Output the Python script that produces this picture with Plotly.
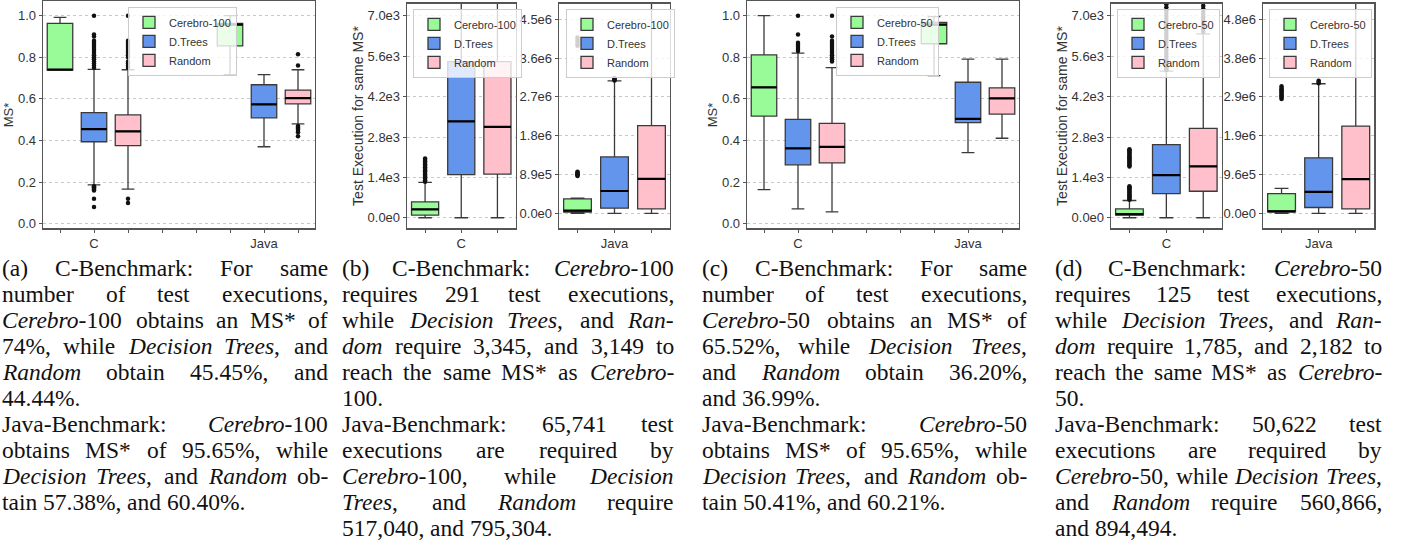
import plotly.graph_objects as go

W, H = 1403, 552

SERIES = ["Cerebro-100", "D.Trees", "Random"]
SERIES50 = ["Cerebro-50", "D.Trees", "Random"]
CATS = ["C", "Java"]
COLORS = ["#98FB98", "#6495ED", "#FFC0CB"]

# ---------- (a) MS*, Cerebro-100 ; rows = series, cols = [C, Java]
A_Q1 = [[0.738, 0.855], [0.394, 0.509], [0.375, 0.576]]
A_MED = [[0.740, 0.9565], [0.4545, 0.5738], [0.4444, 0.604]]
A_Q3 = [[0.963, 0.963], [0.534, 0.668], [0.523, 0.642]]
A_LO = [[0.738, 0.717], [0.187, 0.370], [0.166, 0.480]]
A_HI = [[0.992, 1.0], [0.742, 0.717], [0.740, 0.740]]
A_OUT = [
    [[], []],
    [[0.75, 0.76, 0.77, 0.78, 0.79, 0.80, 0.81, 0.82, 0.83, 0.84, 0.85, 0.86, 0.87, 0.88, 0.90, 0.91, 1.0,
      0.18, 0.175, 0.17, 0.165, 0.16, 0.12, 0.08], []],
    [[0.75, 0.76, 0.77, 0.78, 0.80, 0.81, 0.82, 0.83, 0.84, 0.85, 0.86, 0.87, 0.88, 1.0, 0.12, 0.10],
     [0.76, 0.815, 0.47, 0.465, 0.46, 0.455, 0.45, 0.44, 0.42]],
]

# ---------- (c) MS*, Cerebro-50
C_Q1 = [[0.517, 0.865], [0.283, 0.486], [0.293, 0.527]]
C_MED = [[0.6552, 0.9565], [0.362, 0.5041], [0.3699, 0.6021]]
C_Q3 = [[0.812, 0.967], [0.502, 0.680], [0.482, 0.653]]
C_LO = [[0.164, 0.712], [0.072, 0.342], [0.057, 0.411]]
C_HI = [[1.0, 0.995], [0.820, 0.791], [0.750, 0.791]]
C_OUT = [
    [[], []],
    [[0.83, 0.84, 0.85, 0.86, 0.87, 0.91, 1.0], []],
    [[0.78, 0.79, 0.80, 0.81, 0.82, 0.83, 0.84, 0.85, 0.86, 0.87, 0.88, 0.90, 1.0], []],
]

# ---------- (b) test executions, Cerebro-100 ; rows = series
B_C_Q1 = [92, 1492, 1515]
B_C_MED = [291, 3345, 3149]
B_C_Q3 = [551, 5416, 5416]
B_C_LO = [0, 0, 0]
B_C_HI = [1228, 8500, 8500]
B_C_OUT = [[1250, 1300, 1350, 1400, 1450, 1500, 1550, 1600, 1650, 1700, 1750, 1800, 1850, 1900, 1950, 2000, 2050], [], []]

B_J_Q1 = [30000, 122000, 107000]
B_J_MED = [65741, 517040, 795304]
B_J_Q3 = [335000, 1300000, 2020000]
B_J_LO = [0, 0, 0]
B_J_HI = [350000, 3050000, 5200000]
B_J_OUT = [[860000, 880000, 900000, 920000, 940000, 960000, 3860000, 3900000, 3950000, 4000000, 4050000],
           [3060000, 3080000, 3100000, 3120000], []]

# ---------- (d) test executions, Cerebro-50
D_C_Q1 = [92, 838, 918]
D_C_MED = [125, 1480, 1779]
D_C_Q3 = [310, 2536, 3098]
D_C_LO = [0, 0, 0]
D_C_HI = [597, 5083, 6380]
D_C_OUT = [[620, 660, 700, 740, 780, 820, 860, 900, 940, 980, 1020, 1060, 1090,
            1780, 1820, 1860, 1900, 1940, 1980, 2020, 2060, 2100, 2140, 2180, 2220, 2260, 2300, 2340, 2375],
           [5120, 5160, 5200, 5250, 5300, 5400, 5500, 5600, 5700, 5800, 5900, 6000, 6100, 6200, 6300,
            6400, 6500, 6600, 6700, 6800, 6900, 7000, 7100, 7200, 7300, 7400],
           [6450, 6550, 6650, 6750, 6850, 6950, 7050, 7150, 7250, 7350]]

D_J_Q1 = [41000, 147000, 114000]
D_J_MED = [50622, 531000, 850000]
D_J_Q3 = [491000, 1374000, 2159000]
D_J_LO = [0, 0, 0]
D_J_HI = [621000, 3205000, 5500000]
D_J_OUT = [[2830000, 2860000, 2890000, 2920000, 2950000, 2980000, 3010000, 3040000, 3070000, 3100000, 3140000],
           [3220000, 3250000, 3280000], []]

# tick labels
MS_TICKS = [0.0, 0.2, 0.4, 0.6, 0.8, 1.0]
MS_TEXT = ["0.0", "0.2", "0.4", "0.6", "0.8", "1.0"]
C_TICKS_TEXT = ["0.0e0", "1.4e3", "2.8e3", "4.2e3", "5.6e3", "7.0e3"]
C_TICK_STEP = 1400
B_J_TICKS_TEXT = ["0.0e0", "8.9e5", "1.8e6", "2.7e6", "3.6e6", "4.5e6"]
B_J_TICK_STEP = 894494
D_J_TICKS_TEXT = ["0.0e0", "9.6e5", "1.9e6", "2.9e6", "3.8e6", "4.8e6"]
D_J_TICK_STEP = 960000

CAPTIONS = [
    ["(a) C-Benchmark: For same",
     "number of test executions,",
     "<i>Cerebro</i>-100 obtains an MS* of",
     "74%, while <i>Decision Trees</i>, and",
     "<i>Random</i> obtain 45.45%, and",
     "44.44%.",
     "Java-Benchmark: <i>Cerebro</i>-100",
     "obtains MS* of 95.65%, while",
     "<i>Decision Trees</i>, and <i>Random</i> ob-",
     "tain 57.38%, and 60.40%."],
    ["(b) C-Benchmark: <i>Cerebro</i>-100",
     "requires 291 test executions,",
     "while <i>Decision Trees</i>, and <i>Ran-</i>",
     "<i>dom</i> require 3,345, and 3,149 to",
     "reach the same MS* as <i>Cerebro</i>-",
     "100.",
     "Java-Benchmark: 65,741 test",
     "executions are required by",
     "<i>Cerebro</i>-100, while <i>Decision</i>",
     "<i>Trees</i>, and <i>Random</i> require",
     "517,040, and 795,304."],
    ["(c) C-Benchmark: For same",
     "number of test executions,",
     "<i>Cerebro</i>-50 obtains an MS* of",
     "65.52%, while <i>Decision Trees</i>,",
     "and <i>Random</i> obtain 36.20%,",
     "and 36.99%.",
     "Java-Benchmark: <i>Cerebro</i>-50",
     "obtains MS* of 95.65%, while",
     "<i>Decision Trees</i>, and <i>Random</i> ob-",
     "tain 50.41%, and 60.21%."],
    ["(d) C-Benchmark: <i>Cerebro</i>-50",
     "requires 125 test executions,",
     "while <i>Decision Trees</i>, and <i>Ran-</i>",
     "<i>dom</i> require 1,785, and 2,182 to",
     "reach the same MS* as <i>Cerebro</i>-",
     "50.",
     "Java-Benchmark: 50,622 test",
     "executions are required by",
     "<i>Cerebro</i>-50, while <i>Decision Trees</i>,",
     "and <i>Random</i> require 560,866,",
     "and 894,494."],
]

# ---------------------------------------------------------------- styling / layout
SANS = "Liberation Sans, Arial, sans-serif"
SERIF = "Liberation Serif, Times New Roman, serif"
EDGE = "#3a3a3a"
FRAME = "#555555"
BOX_W = 0.75


def px_x(v):
    return v / W


def px_y(v):
    return 1 - v / H


fig = go.Figure()

# subplot geometry in pixels: (left, right, top, bottom)
PANELS = {
    1: (43, 315, 0.5, 229),
    2: (407, 515.5, 2.7, 229),
    3: (559, 670, 2.7, 229),
    4: (747, 1019, 0.5, 229),
    5: (1111, 1221.7, 2.7, 229),
    6: (1263, 1374.3, 2.7, 229),
}


def add_boxes(ax, names, q1, med, q3, lo, hi, out, positions, legend):
    xa = "x" if ax == 1 else f"x{ax}"
    ya = "y" if ax == 1 else f"y{ax}"
    for si, name in enumerate(names):
        fig.add_trace(go.Box(
            x=positions[si], q1=q1[si], median=med[si], q3=q3[si],
            lowerfence=lo[si], upperfence=hi[si],
            name=name, fillcolor=COLORS[si],
            line=dict(color=EDGE, width=1.3),
            width=BOX_W, whiskerwidth=0.5, boxpoints=False,
            xaxis=xa, yaxis=ya, legend=legend, showlegend=True,
            hoverinfo="skip",
        ))
    # thicker black median bars, built from the median values and box positions
    mx, my = [], []
    for si in range(len(names)):
        for p, m in zip(positions[si], med[si]):
            mx += [p - BOX_W / 2, p + BOX_W / 2, None]
            my += [m, m, None]
    fig.add_trace(go.Scatter(x=mx, y=my, mode="lines", line=dict(color="black", width=2.2),
                             xaxis=xa, yaxis=ya, showlegend=False, hoverinfo="skip"))
    for si in range(len(names)):
        for bi, vals in enumerate(out[si]):
            if not vals:
                continue
            fig.add_trace(go.Scatter(
                x=[positions[si][bi]] * len(vals), y=vals, mode="markers",
                marker=dict(color="#111111", size=4.5, line=dict(width=0)),
                xaxis=xa, yaxis=ya, showlegend=False, hoverinfo="skip",
            ))


def as_single(lst):
    return [[v] for v in lst]


pos_ac = [[ci * 5 + si for ci in range(len(CATS))] for si in range(3)]
add_boxes(1, SERIES, A_Q1, A_MED, A_Q3, A_LO, A_HI, A_OUT, pos_ac, "legend")
add_boxes(4, SERIES50, C_Q1, C_MED, C_Q3, C_LO, C_HI, C_OUT, pos_ac, "legend4")

pos_bd = [[si] for si in range(3)]
add_boxes(2, SERIES, as_single(B_C_Q1), as_single(B_C_MED), as_single(B_C_Q3),
          as_single(B_C_LO), as_single(B_C_HI), [[o] for o in B_C_OUT], pos_bd, "legend2")
add_boxes(3, SERIES, as_single(B_J_Q1), as_single(B_J_MED), as_single(B_J_Q3),
          as_single(B_J_LO), as_single(B_J_HI), [[o] for o in B_J_OUT], pos_bd, "legend3")
add_boxes(5, SERIES50, as_single(D_C_Q1), as_single(D_C_MED), as_single(D_C_Q3),
          as_single(D_C_LO), as_single(D_C_HI), [[o] for o in D_C_OUT], pos_bd, "legend5")
add_boxes(6, SERIES50, as_single(D_J_Q1), as_single(D_J_MED), as_single(D_J_Q3),
          as_single(D_J_LO), as_single(D_J_HI), [[o] for o in D_J_OUT], pos_bd, "legend6")

axis_common = dict(
    showline=True, mirror=True, linecolor=FRAME, linewidth=1.3,
    ticks="outside", ticklen=3, tickcolor=FRAME, tickwidth=1,
    tickfont=dict(family=SANS, size=13, color="#333333"),
    zeroline=False, fixedrange=True,
)

layout = {}
for ax, (l, r, t, b) in PANELS.items():
    xk = "xaxis" if ax == 1 else f"xaxis{ax}"
    yk = "yaxis" if ax == 1 else f"yaxis{ax}"
    xa = "x" if ax == 1 else f"x{ax}"
    if ax in (1, 4):
        xt = dict(tickvals=[0, 1, 2, 3, 4, 5, 6, 7],
                  ticktext=["", CATS[0], "", "", "", "", CATS[1], ""], range=[-0.5, 7.5])
    else:
        cat = CATS[0] if ax in (2, 5) else CATS[1]
        xt = dict(tickvals=[0, 1, 2], ticktext=["", cat, ""], range=[-0.5, 2.5])
    layout[xk] = dict(domain=[px_x(l), px_x(r)], anchor=("y" if ax == 1 else f"y{ax}"),
                      showgrid=False, **xt, **axis_common)
    ygrid = dict(showgrid=True, gridcolor="#c8c8c8", griddash="dot", gridwidth=1)
    if ax in (1, 4):
        yt = dict(tickvals=MS_TICKS, ticktext=MS_TEXT, range=[-0.022, 1.068],
                  title=dict(text="MS*", font=dict(family=SANS, size=13, color="#333333"), standoff=1))
    elif ax in (2, 5):
        yt = dict(tickvals=[i * C_TICK_STEP for i in range(len(C_TICKS_TEXT))], ticktext=C_TICKS_TEXT,
                  range=[-368, 7424],
                  title=dict(text="Test Execution for same MS*",
                             font=dict(family=SANS, size=14, color="#333333"), standoff=0))
    elif ax == 3:
        yt = dict(tickvals=[i * B_J_TICK_STEP for i in range(len(B_J_TICKS_TEXT))], ticktext=B_J_TICKS_TEXT,
                  range=[-343000, 4829000])
    else:
        yt = dict(tickvals=[i * D_J_TICK_STEP for i in range(len(D_J_TICKS_TEXT))], ticktext=D_J_TICKS_TEXT,
                  range=[-368000, 5183000])
    layout[yk] = dict(domain=[px_y(b), px_y(t)], anchor=xa, **ygrid, **yt, **axis_common)

LEG_POS = {"legend": (128, 6), "legend2": (413, 8), "legend3": (566, 8),
           "legend4": (836, 6), "legend5": (1117, 8), "legend6": (1269, 8)}
for lk, (lx, ly) in LEG_POS.items():
    layout[lk] = dict(x=px_x(lx), y=px_y(ly), xanchor="left", yanchor="top",
                      bgcolor="rgba(255,255,255,0.8)", bordercolor="#cccccc", borderwidth=1,
                      font=dict(family=SANS, size=11, color="#333333"),
                      tracegroupgap=0, itemwidth=30)

# ---------------------------------------------------------------- justified captions
ROMAN = {" ": 250, "!": 333, "%": 833, "(": 333, ")": 333, "*": 500, ",": 250, "-": 333, ".": 250, ":": 278,
         "A": 722, "B": 667, "C": 667, "D": 722, "E": 611, "F": 556, "G": 722, "H": 722, "I": 333, "J": 389,
         "K": 722, "L": 611, "M": 889, "N": 722, "O": 722, "P": 556, "Q": 722, "R": 667, "S": 556, "T": 611,
         "U": 722, "V": 722, "W": 944, "X": 722, "Y": 722, "Z": 611,
         "a": 444, "b": 500, "c": 444, "d": 500, "e": 444, "f": 333, "g": 500, "h": 500, "i": 278, "j": 278,
         "k": 500, "l": 278, "m": 778, "n": 500, "o": 500, "p": 500, "q": 500, "r": 333, "s": 389, "t": 278,
         "u": 500, "v": 500, "w": 722, "x": 500, "y": 500, "z": 444}
ITALIC = {" ": 250, ",": 250, "-": 333, ".": 250,
          "A": 611, "B": 611, "C": 667, "D": 722, "E": 611, "F": 611, "G": 722, "H": 722, "I": 333, "J": 444,
          "K": 667, "L": 556, "M": 833, "N": 667, "O": 722, "P": 611, "Q": 722, "R": 611, "S": 500, "T": 556,
          "a": 500, "b": 500, "c": 444, "d": 500, "e": 444, "f": 278, "g": 500, "h": 500, "i": 278, "j": 278,
          "k": 444, "l": 278, "m": 722, "n": 500, "o": 500, "p": 500, "q": 500, "r": 389, "s": 389, "t": 278,
          "u": 500, "v": 444, "w": 667, "x": 444, "y": 444, "z": 389}


def parse(line):
    chars, ital, i = [], False, 0
    while i < len(line):
        if line.startswith("<i>", i):
            ital, i = True, i + 3
        elif line.startswith("</i>", i):
            ital, i = False, i + 4
        else:
            chars.append((line[i], ital))
            i += 1
    words, cur = [], []
    for c, it in chars:
        if c == " ":
            if cur:
                words.append(cur)
            cur = []
        else:
            cur.append((c, it))
    if cur:
        words.append(cur)
    return words


def word_markup(word):
    out, cur_it = "", False
    for c, it in word:
        if it and not cur_it:
            out += "<i>"
        if not it and cur_it:
            out += "</i>"
        out += c
        cur_it = it
    if cur_it:
        out += "</i>"
    return out


def word_width(word, size):
    return sum((ITALIC if it else ROMAN).get(c, 500) for c, it in word) * size / 1000.0


CAP_COLS = [(2, 328), (342, 674), (702, 1027), (1055, 1382)]
BASE0, LINE_H, CAP_SIZE = 276, 26.2, 23.5
annotations = []
for ci, lines in enumerate(CAPTIONS):
    left, right = CAP_COLS[ci]
    for li, line in enumerate(lines):
        words = parse(line)
        widths = [word_width(w, CAP_SIZE) for w in words]
        last_of_par = (li == len(lines) - 1) or lines[li + 1].startswith("Java-Benchmark")
        space = 0.25 * CAP_SIZE
        if not last_of_par and len(words) > 1:
            space = max((right - left - sum(widths)) / (len(words) - 1), 3)
        yc = px_y(BASE0 + li * LINE_H - 0.3 * CAP_SIZE)
        x = left
        for wi, w in enumerate(words):
            justify_end = (not last_of_par) and wi == len(words) - 1 and len(words) > 1
            annotations.append(dict(
                text=word_markup(w),
                x=px_x(right if justify_end else x), y=yc,
                xref="paper", yref="paper",
                xanchor="right" if justify_end else "left", yanchor="middle",
                showarrow=False, borderpad=0, borderwidth=0,
                font=dict(family=SERIF, size=CAP_SIZE, color="#111111"),
            ))
            x += widths[wi] + space

fig.update_layout(
    width=W, height=H, margin=dict(l=0, r=0, t=0, b=0),
    paper_bgcolor="white", plot_bgcolor="white",
    annotations=annotations, boxmode="overlay",
    **layout,
)

fig.write_html("out.html", config={"displayModeBar": False, "staticPlot": True},
               post_script="document.body.style.margin='0';document.body.style.padding='0';")
